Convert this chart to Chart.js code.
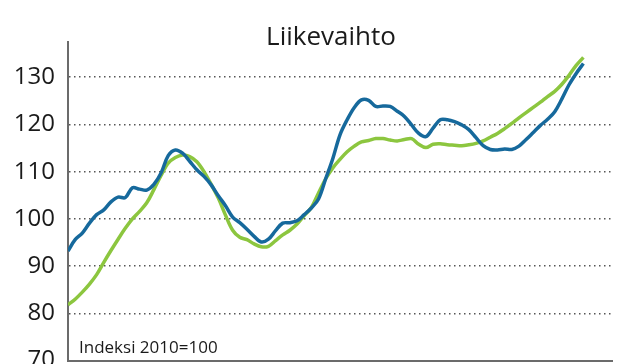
<!DOCTYPE html>
<html>
<head>
<meta charset="utf-8">
<script src="https://cdn.jsdelivr.net/npm/chart.js@4"></script>
<style>
    html, body { margin: 0; padding: 0; background: #fff; overflow: hidden; }
    #wrap { width: 624px; height: 388px; }
</style>
</head>
<body>
<div id="wrap"><canvas id="chart"></canvas></div>
<script>
const chartTitle = 'Liikevaihto';
const indexNote = 'Indeksi 2010=100';
const yTicks = [70, 80, 90, 100, 110, 120, 130];

// sininen sarja
const blueValues = [
    93.2, 95.6, 97.0, 99.1, 100.9, 101.9, 103.6, 104.6, 104.5, 106.6,
    106.3, 106.1, 107.3, 109.7, 113.4, 114.6, 113.9, 112.2, 110.4, 109.0,
    107.2, 104.9, 102.8, 100.4, 99.2, 97.8, 96.3, 95.1, 95.7, 97.5,
    99.1, 99.2, 99.6, 100.9, 102.3, 104.2, 108.5, 112.8, 117.8, 121.0,
    123.6, 125.2, 125.1, 123.8, 123.9, 123.8, 122.8, 121.7, 119.9, 118.1,
    117.4, 119.2, 121.0, 121.0, 120.6, 119.9, 118.9, 117.2, 115.5, 114.7,
    114.6, 114.8, 114.7, 115.4, 116.8, 118.3, 119.8, 121.1, 122.7, 125.4,
    128.4, 130.8, 132.9
];

// vihreä sarja
const greenValues = [
    81.8, 83.0, 84.5, 86.2, 88.2, 90.8, 93.3, 95.7, 98.0, 100.0,
    101.6, 103.4, 106.2, 109.2, 111.8, 113.0, 113.5, 113.2, 112.1, 110.0,
    107.3, 104.4, 100.8, 97.6, 96.1, 95.6, 94.7, 94.1, 94.2, 95.4,
    96.6, 97.6, 98.9, 100.7, 102.4, 105.5, 108.5, 110.8, 112.6, 114.2,
    115.4, 116.3, 116.6, 117.0, 117.0, 116.7, 116.5, 116.8, 117.0, 115.8,
    115.1, 115.8, 115.9, 115.7, 115.6, 115.5, 115.7, 116.0, 116.5, 117.3,
    118.1, 119.1, 120.2, 121.4, 122.5, 123.6, 124.7, 125.9, 127.0, 128.5,
    130.4, 132.5, 134.2
];

const periods = blueValues.map((v, i) => i);

const textPlugin = {
    id: 'texts',
    afterDraw(chart) {
        const ctx = chart.ctx;
        const area = chart.chartArea;
        ctx.save();
        ctx.fillStyle = '#1a1a1a';
        ctx.textBaseline = 'alphabetic';
        ctx.font = '26px "Open Sans"';
        ctx.textAlign = 'center';
        ctx.fillText(chartTitle, (area.left + area.right) / 2 - 9, area.top + 3);
        ctx.font = '17px "Open Sans"';
        ctx.textAlign = 'left';
        ctx.fillText(indexNote, area.left + 11, area.bottom - 8);
        ctx.restore();
    }
};

new Chart(document.getElementById('chart'), {
    type: 'line',
    data: {
        datasets: [{
            label: 'sininen',
            data: periods.map((p, i) => ({ x: p, y: blueValues[i] })),
            borderColor: '#16699c',
            borderWidth: 3.5,
            pointRadius: 0,
            tension: 0.35,
            fill: false
        }, {
            label: 'vihreä',
            data: periods.map((p, i) => ({ x: p, y: greenValues[i] })),
            borderColor: '#8cc63f',
            borderWidth: 3.5,
            pointRadius: 0,
            tension: 0.35,
            fill: false
        }]
    },
    options: {
        responsive: true,
        maintainAspectRatio: false,
        animation: false,
        devicePixelRatio: 1,
        layout: {
            padding: { top: 42, right: 12, left: 0, bottom: 0 }
        },
        plugins: {
            legend: { display: false },
            tooltip: { enabled: false }
        },
        scales: {
            x: {
                type: 'linear',
                min: 0,
                max: 76,
                grid: { display: false },
                ticks: { display: false },
                border: { display: true, color: '#6b6b6b', width: 2 }
            },
            y: {
                min: 70,
                max: 137.45,
                afterBuildTicks: scale => {
                    scale.ticks = yTicks.map(v => ({ value: v }));
                },
                afterFit: scale => {
                    scale.width = 68;
                },
                grid: {
                    color: '#555',
                    lineWidth: 1.5,
                    drawTicks: false
                },
                border: { display: true, color: '#6b6b6b', width: 2, dash: [1.5, 3.5] },
                ticks: {
                    padding: 13,
                    color: '#1a1a1a',
                    font: { family: 'Open Sans', size: 24 }
                }
            }
        }
    },
    plugins: [textPlugin]
});
</script>
</body>
</html>
